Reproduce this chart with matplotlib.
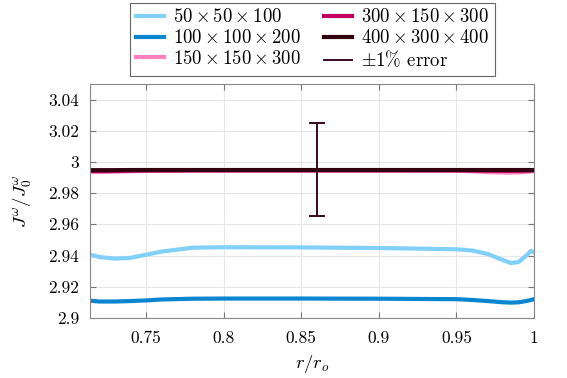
import numpy as np
import matplotlib
matplotlib.use("Agg")
import matplotlib.pyplot as plt
from matplotlib.lines import Line2D

plt.rcParams['font.family'] = 'serif'
plt.rcParams['font.serif'] = ['cmr10']
plt.rcParams['mathtext.fontset'] = 'cm'
plt.rcParams['axes.formatter.use_mathtext'] = True

# radial positions r/r_o
r = [0.714, 0.72, 0.73, 0.74, 0.75, 0.76, 0.78, 0.80, 0.85, 0.90, 0.95, 0.96, 0.97, 0.98, 0.985, 0.99, 0.995, 0.998, 1.0]

j_50 = [2.9405, 2.9390, 2.9380, 2.9385, 2.9405, 2.9425, 2.9450, 2.9453, 2.9452, 2.9448, 2.9440, 2.9432, 2.9410, 2.9370, 2.9352, 2.9358, 2.9400, 2.9430, 2.9420]
j_100 = [2.9110, 2.9105, 2.9105, 2.9108, 2.9112, 2.9118, 2.9123, 2.9124, 2.9124, 2.9123, 2.9120, 2.9115, 2.9108, 2.9100, 2.9098, 2.9100, 2.9108, 2.9115, 2.9120]
j_150 = [2.9935, 2.9935, 2.9937, 2.9940, 2.9942, 2.9943, 2.9944, 2.9944, 2.9944, 2.9944, 2.9943, 2.9940, 2.9935, 2.9932, 2.9932, 2.9933, 2.9936, 2.9940, 2.9942]
j_300 = [2.9942, 2.9942, 2.9943, 2.9944, 2.9945, 2.9945, 2.9946, 2.9946, 2.9946, 2.9946, 2.9946, 2.9945, 2.9944, 2.9943, 2.9943, 2.9943, 2.9944, 2.9945, 2.9946]
j_400 = [2.9947, 2.9947, 2.9947, 2.9948, 2.9948, 2.9948, 2.9948, 2.9948, 2.9948, 2.9948, 2.9948, 2.9948, 2.9948, 2.9948, 2.9948, 2.9948, 2.9948, 2.9948, 2.9948]

labels = [r'$50\times50\times100$', r'$100\times100\times200$', r'$150\times150\times300$',
          r'$300\times150\times300$', r'$400\times300\times400$']
colors = ['#80d0fa', '#0a85cf', '#ff80bf', '#c2005f', '#33000f']

err_x = 0.86
err_y = 2.995
err_col = '#3a0a1f'

fig, ax = plt.subplots(figsize=(5.67, 3.78), dpi=100)
fig.subplots_adjust(left=0.159, right=0.942, bottom=0.159, top=0.778)

handles = []
for y, lab, c in zip([j_50, j_100, j_150, j_300, j_400], labels, colors):
    ln, = ax.plot(r, y, color=c, lw=3, label=lab)
    handles.append(ln)

ax.errorbar([err_x], [err_y], yerr=[0.01 * err_y], color=err_col, lw=1.4,
            capsize=6, capthick=1.4)
handles.append(Line2D([], [], color=err_col, lw=1.4))
labels.append(r'$\pm1\%$ error')

ax.set_xlim(0.714, 1.0)
ax.set_ylim(2.9, 3.05)
ax.set_xticks([0.75, 0.8, 0.85, 0.9, 0.95, 1])
ax.set_xticklabels(['0.75', '0.8', '0.85', '0.9', '0.95', '1'])
ax.set_yticks([2.9, 2.92, 2.94, 2.96, 2.98, 3.0, 3.02, 3.04])
ax.set_yticklabels(['2.9', '2.92', '2.94', '2.96', '2.98', '3', '3.02', '3.04'])
ax.tick_params(direction='in', top=True, right=True, labelsize=12.5, color='#777777', length=4)
ax.tick_params(axis='y', pad=8)
ax.tick_params(axis='x', pad=9)
ax.grid(True, color='#e6e6e6', lw=0.8)
for s in ax.spines.values():
    s.set_color('#888888')

ax.set_xlabel(r'$r/r_o$', fontsize=13.5, labelpad=5)
ax.set_ylabel(r'$J^\omega/J_0^\omega$', fontsize=13.5, labelpad=10)

leg = fig.legend(handles, labels, ncol=2, loc='upper center', bbox_to_anchor=(0.551, 0.993),
                 borderaxespad=0, fontsize=13.5, fancybox=False, edgecolor='#666666',
                 framealpha=1, handlelength=1.5, handletextpad=0.5, columnspacing=1.2,
                 labelspacing=0.15, borderpad=0.3)
leg.get_frame().set_linewidth(0.8)

fig.savefig('out.png', dpi=100)
